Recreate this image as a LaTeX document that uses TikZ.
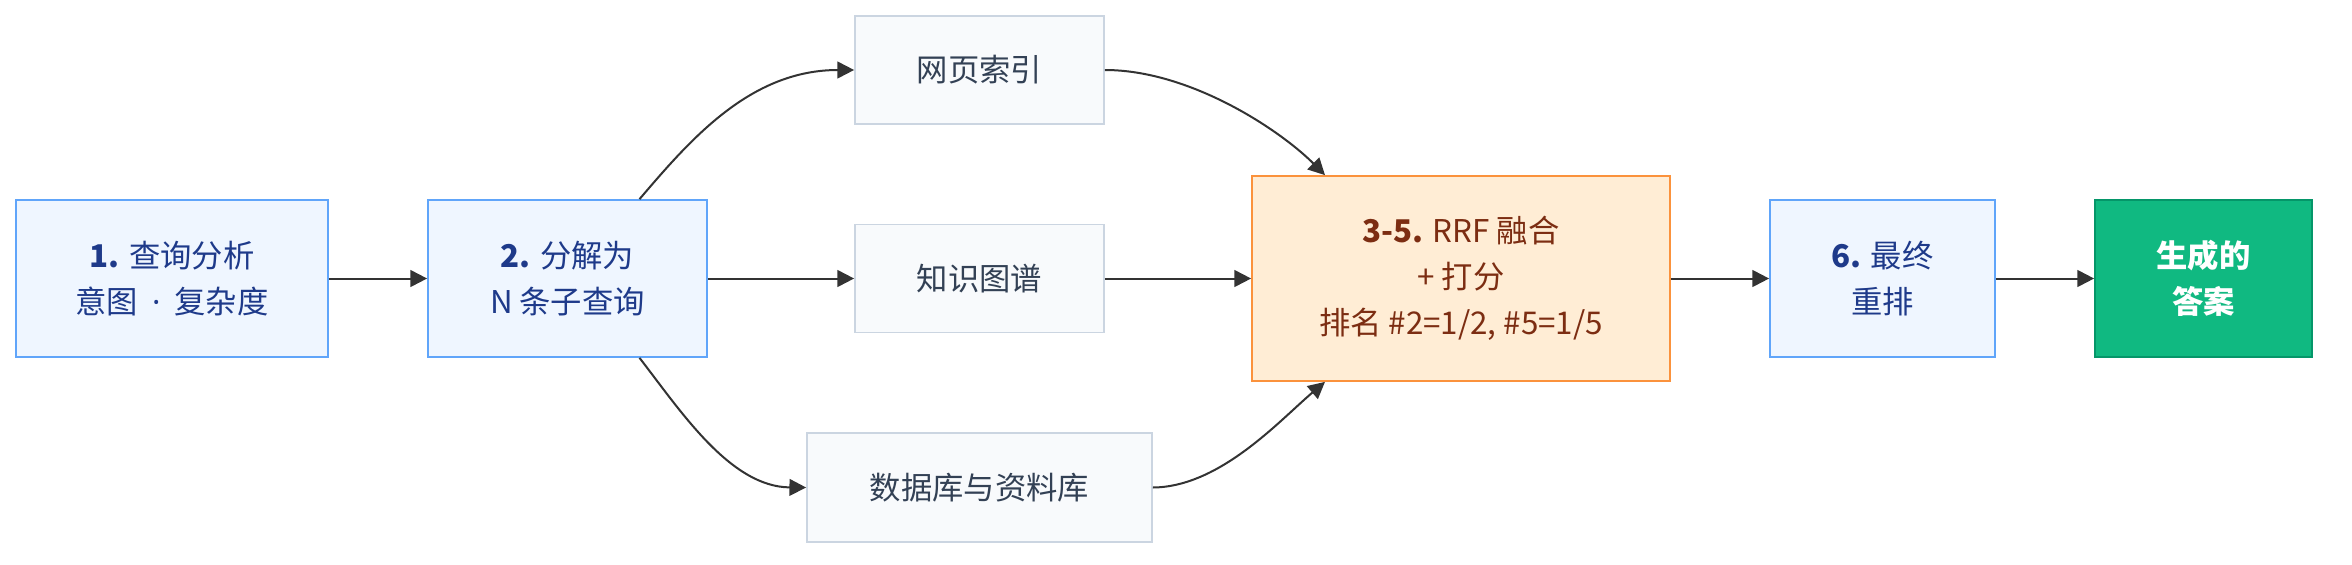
\documentclass[tikz,border=0pt]{standalone}
\usepackage{fontspec}
\setmainfont{Noto Sans CJK SC}
\newfontfamily\latinfont{Noto Sans}
\usetikzlibrary{arrows.meta}
\definecolor{bluefill}{HTML}{EFF6FF}
\definecolor{blueline}{HTML}{60A5FA}
\definecolor{bluetext}{HTML}{1E3A8A}
\definecolor{grayfill}{HTML}{F8FAFC}
\definecolor{grayline}{HTML}{CBD5E1}
\definecolor{graytext}{HTML}{334155}
\definecolor{orfill}{HTML}{FFEDD5}
\definecolor{orline}{HTML}{FB923C}
\definecolor{ortext}{HTML}{7C2D12}
\definecolor{grfill}{HTML}{10B981}
\definecolor{grline}{HTML}{059669}
\definecolor{edgecol}{HTML}{333333}
\begin{document}
\begin{tikzpicture}[x=0.75pt,y=-0.75pt,
  box/.style={draw, line width=1.3pt, inner sep=0pt, align=center,
    font=\fontsize{23.5}{34.5}\selectfont},
  stepbox/.style={box, fill=bluefill, draw=blueline, text=bluetext, minimum height=117.75pt},
  srcbox/.style={box, fill=grayfill, draw=grayline, text=graytext, minimum height=81pt},
  fusebox/.style={box, fill=orfill, draw=orline, text=ortext},
  ansbox/.style={box, fill=grfill, draw=grline, text=white, minimum height=117.75pt},
  arr/.style={draw=edgecol, line width=1.5pt, -{Triangle[length=12.5pt,width=12.5pt]}}]
\useasboundingbox (0,0) rectangle (2352,564);
\node[stepbox, minimum width=234pt] (n1) at (172,278.5) {\textbf{1.} 查询分析\\意图{\latinfont\hspace{0.45em}·\hspace{0.45em}}复杂度};
\node[stepbox, minimum width=209.25pt] (n2) at (567.5,278.5) {\textbf{2.} 分解为\\N 条子查询};
\node[srcbox, minimum width=186.75pt] (web) at (979.5,70) {网页索引};
\node[srcbox, minimum width=186.75pt] (kg) at (979.5,278.5) {知识图谱};
\node[srcbox, minimum width=258.75pt, minimum height=81.75pt] (db) at (979.5,487.5) {数据库与资料库};
\node[fusebox, minimum width=313.5pt, minimum height=153.75pt] (rrf) at (1461,278.5) {\textbf{3-5.} RRF 融合\\+ 打分\\排名 \#2=1/2, \#5=1/5};
\node[stepbox, minimum width=168.75pt] (n6) at (1882.5,278.5) {\textbf{6.} 最终\\重排};
\node[ansbox, minimum width=162.75pt] (ans) at (2203.5,278.5) {\textbf{生成的}\\\textbf{答案}};
\draw[arr] (n1.east) -- (n2.west);
\draw[arr] (n2.east) -- (kg.west);
\draw[arr] (kg.east) -- (rrf.west);
\draw[arr] (rrf.east) -- (n6.west);
\draw[arr] (n6.east) -- (ans.west);
\draw[arr] ([xshift=54pt]n2.north) .. controls (690,140) and (750,70) .. (web.west);
\draw[arr] ([xshift=54pt]n2.south) .. controls (680,410) and (730,487) .. (db.west);
\draw[arr] (web.east) .. controls (1190,70) and (1280,130) .. ([xshift=-102pt]rrf.north);
\draw[arr] (db.east) .. controls (1220,487) and (1280,420) .. ([xshift=-102pt]rrf.south);
\end{tikzpicture}
\end{document}
